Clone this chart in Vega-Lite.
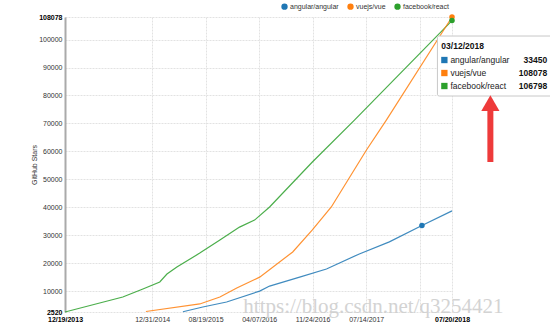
{
  "$schema": "https://vega.github.io/schema/vega-lite/v6.json",
  "width": 387,
  "height": 295,
  "autosize": "none",
  "padding": {"left": 65, "top": 17, "right": 98, "bottom": 16},
  "background": "white",
  "config": {
    "view": {"stroke": null},
    "font": "Liberation Sans",
    "axis": {
      "labelFont": "Liberation Sans", "titleFont": "Liberation Sans", "labelColor": "#333", "titleColor": "#333",
      "labelOverlap": false, "labelFlush": false, "labelBound": false, "ticks": false,
      "grid": true, "gridColor": "#e2e2e2", "gridWidth": 1, "gridDash": [2, 1], "labelFontSize": 7
    }
  },
  "datasets": {
    "stars": [
      {"date": "2013/12/19", "repo": "facebook/react", "stars": 2520},
      {"date": "2014/08/26", "repo": "facebook/react", "stars": 7900},
      {"date": "2014/11/21", "repo": "facebook/react", "stars": 10750},
      {"date": "2015/02/02", "repo": "facebook/react", "stars": 13250},
      {"date": "2015/03/05", "repo": "facebook/react", "stars": 16100},
      {"date": "2015/04/17", "repo": "facebook/react", "stars": 18600},
      {"date": "2015/07/25", "repo": "facebook/react", "stars": 23600},
      {"date": "2015/10/20", "repo": "facebook/react", "stars": 28300},
      {"date": "2016/01/13", "repo": "facebook/react", "stars": 32900},
      {"date": "2016/03/18", "repo": "facebook/react", "stars": 35400},
      {"date": "2016/05/22", "repo": "facebook/react", "stars": 40100},
      {"date": "2016/11/23", "repo": "facebook/react", "stars": 56200},
      {"date": "2017/05/24", "repo": "facebook/react", "stars": 71200},
      {"date": "2018/07/20", "repo": "facebook/react", "stars": 106798},
      {"date": "2014/12/04", "repo": "vuejs/vue", "stars": 2700},
      {"date": "2015/07/25", "repo": "vuejs/vue", "stars": 5400},
      {"date": "2015/10/20", "repo": "vuejs/vue", "stars": 7900},
      {"date": "2016/01/01", "repo": "vuejs/vue", "stars": 11100},
      {"date": "2016/04/09", "repo": "vuejs/vue", "stars": 15000},
      {"date": "2016/08/30", "repo": "vuejs/vue", "stars": 24000},
      {"date": "2016/11/23", "repo": "vuejs/vue", "stars": 31900},
      {"date": "2017/02/13", "repo": "vuejs/vue", "stars": 40100},
      {"date": "2017/07/15", "repo": "vuejs/vue", "stars": 60500},
      {"date": "2017/10/09", "repo": "vuejs/vue", "stars": 71200},
      {"date": "2018/07/20", "repo": "vuejs/vue", "stars": 108078},
      {"date": "2015/05/13", "repo": "angular/angular", "stars": 2600},
      {"date": "2015/08/07", "repo": "angular/angular", "stars": 4300},
      {"date": "2015/11/18", "repo": "angular/angular", "stars": 6100},
      {"date": "2016/04/09", "repo": "angular/angular", "stars": 10000},
      {"date": "2016/05/22", "repo": "angular/angular", "stars": 11800},
      {"date": "2016/09/29", "repo": "angular/angular", "stars": 15000},
      {"date": "2017/01/23", "repo": "angular/angular", "stars": 17900},
      {"date": "2017/06/14", "repo": "angular/angular", "stars": 23300},
      {"date": "2017/10/22", "repo": "angular/angular", "stars": 27600},
      {"date": "2018/03/12", "repo": "angular/angular", "stars": 33450},
      {"date": "2018/07/20", "repo": "angular/angular", "stars": 38700}
    ],
    "dots": [
      {"date": "2018/03/12", "repo": "angular/angular", "stars": 33450},
      {"date": "2018/07/20", "repo": "vuejs/vue", "stars": 108078},
      {"date": "2018/07/20", "repo": "facebook/react", "stars": 106798}
    ],
    "box": [
      {"date": "2018/05/18", "date2": "2019/10/27", "stars": 101273, "stars2": 79805}
    ],
    "rowsq": [
      {"date": "2018/06/17", "repo": "angular/angular", "stars": 92686},
      {"date": "2018/06/17", "repo": "vuejs/vue", "stars": 88034},
      {"date": "2018/06/17", "repo": "facebook/react", "stars": 83383}
    ],
    "rowsn": [
      {"date": "2018/07/13", "repo": "angular/angular", "stars": 92686},
      {"date": "2018/07/13", "repo": "vuejs/vue", "stars": 88034},
      {"date": "2018/07/13", "repo": "facebook/react", "stars": 83383}
    ],
    "rowsv": [
      {"date": "2019/09/05", "stars": 92686, "val": "33450"},
      {"date": "2019/09/05", "stars": 88034, "val": "108078"},
      {"date": "2019/09/05", "stars": 83383, "val": "106798"}
    ],
    "title": [
      {"date": "2018/06/04", "stars": 97695, "label": "03/12/2018"}
    ],
    "arrow": [
      {"date": "2019/01/02", "stars": 56190, "stars2": 74796}
    ],
    "head": [
      {"date": "2019/01/02", "stars": 77300}
    ],
    "wm": [
      {"date": "2017/08/14", "stars": 2162, "label": "https://blog.csdn.net/q3254421"}
    ]
  },
  "encoding": {
    "x": {
      "field": "date", "type": "temporal",
      "scale": {"domain": [{"year": 2013, "month": 12, "date": 19}, {"year": 2018, "month": 7, "date": 20}], "nice": false},
      "axis": {
        "title": null,
        "format": "%m/%d/%Y",
        "values": [
          {"year": 2013, "month": 12, "date": 19},
          {"year": 2014, "month": 12, "date": 31},
          {"year": 2015, "month": 8, "date": 19},
          {"year": 2016, "month": 4, "date": 7},
          {"year": 2016, "month": 11, "date": 24},
          {"year": 2017, "month": 7, "date": 14},
          {"year": 2018, "month": 3, "date": 2},
          {"year": 2018, "month": 7, "date": 20}
        ],
        "labelExpr": "month(datum.value) == 2 && year(datum.value) == 2018 ? '' : datum.label",
        "labelFontWeight": {"condition": {"test": "datum.index == 0 || datum.index == 1", "value": "bold"}, "value": "normal"},
        "labelColor": {"condition": {"test": "datum.index == 0 || datum.index == 1", "value": "#000"}, "value": "#333"},
        "labelPadding": 3,
        "domain": false
      }
    },
    "y": {
      "field": "stars", "type": "quantitative",
      "scale": {"domain": [2520, 108078], "nice": false, "zero": false},
      "axis": {
        "title": "GitHub Stars",
        "titleFontSize": 7,
        "titleFontWeight": "normal",
        "titlePadding": 1,
        "values": [2520, 10000, 20000, 30000, 40000, 50000, 60000, 70000, 80000, 90000, 100000, 108078],
        "format": "d",
        "labelOverlap": false,
        "labelFontWeight": {"condition": {"test": "datum.index == 0 || datum.index == 1", "value": "bold"}, "value": "normal"},
        "labelColor": {"condition": {"test": "datum.index == 0 || datum.index == 1", "value": "#000"}, "value": "#333"},
        "labelPadding": 3,
        "domain": true,
        "domainColor": "#aaaaaa",
        "domainWidth": 2
      }
    }
  },
  "layer": [
    {
      "data": {"name": "stars"},
      "mark": {"type": "line", "strokeWidth": 1.2, "opacity": 0.85, "interpolate": "linear"},
      "encoding": {
        "color": {
          "field": "repo", "type": "nominal",
          "scale": {"domain": ["angular/angular", "vuejs/vue", "facebook/react"], "range": ["#1f77b4", "#ff7f0e", "#2ca02c"]},
          "legend": {
            "title": null,
            "orient": "none",
            "direction": "horizontal",
            "legendX": 216,
            "legendY": -14,
            "symbolType": "circle",
            "symbolSize": 40,
            "symbolStrokeWidth": 0,
            "symbolOpacity": 1,
            "labelFontSize": 7,
            "labelColor": "#333",
            "columnPadding": 8,
            "labelOffset": 2
          }
        }
      }
    },
    {
      "data": {"name": "dots"},
      "mark": {"type": "point", "filled": true, "size": 30, "opacity": 1},
      "encoding": {
        "color": {"field": "repo", "type": "nominal", "legend": null}
      }
    },
    {
      "data": {"name": "box"},
      "mark": {"type": "rect", "fill": "white", "stroke": "#c8c8c8", "strokeWidth": 1, "cornerRadius": 2},
      "encoding": {
        "x2": {"field": "date2"},
        "y2": {"field": "stars2"}
      }
    },
    {
      "data": {"name": "title"},
      "mark": {"type": "text", "align": "left", "baseline": "middle", "fontWeight": "bold", "fontSize": 8.5, "color": "#111"},
      "encoding": {
        "text": {"field": "label"}
      }
    },
    {
      "data": {"name": "rowsq"},
      "mark": {"type": "square", "size": 40, "opacity": 1, "filled": true},
      "encoding": {
        "color": {"field": "repo", "type": "nominal", "legend": null}
      }
    },
    {
      "data": {"name": "rowsn"},
      "mark": {"type": "text", "align": "left", "baseline": "middle", "fontSize": 8.5, "color": "#222"},
      "encoding": {
        "text": {"field": "repo"}
      }
    },
    {
      "data": {"name": "rowsv"},
      "mark": {"type": "text", "align": "right", "baseline": "middle", "fontSize": 8.5, "fontWeight": "bold", "color": "#111"},
      "encoding": {
        "text": {"field": "val"}
      }
    },
    {
      "data": {"name": "arrow"},
      "mark": {"type": "rule", "color": "#ee3a3a", "strokeWidth": 6},
      "encoding": {
        "y2": {"field": "stars2"}
      }
    },
    {
      "data": {"name": "head"},
      "mark": {"type": "point", "shape": "triangle-up", "filled": true, "size": 330, "color": "#ee3a3a", "opacity": 1},
      "encoding": {}
    },
    {
      "data": {"name": "wm"},
      "mark": {"type": "text", "align": "center", "baseline": "alphabetic", "font": "Liberation Serif", "fontSize": 21, "color": "#cfcfcf", "opacity": 0.9},
      "encoding": {
        "text": {"field": "label"}
      }
    }
  ]
}
